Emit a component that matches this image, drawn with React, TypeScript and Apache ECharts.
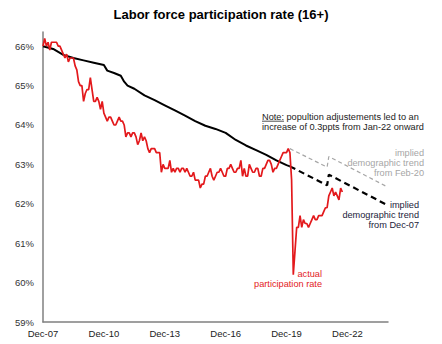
import React, { useEffect, useRef } from "react";
import * as echarts from "echarts";

// x values are months since Dec-07
const xTickLabels = ["Dec-07", "Dec-10", "Dec-13", "Dec-16", "Dec-19", "Dec-22"];
const monthsPerTick = 36;

// actual participation rate, monthly from Dec-07 to Sep-22
const actualRate = [
  66.0,
  66.2, 66.0, 66.1, 65.9, 66.1, 66.1, 66.1, 66.1, 66.0, 66.0, 65.9, 65.8,
  65.7, 65.8, 65.6, 65.7, 65.7, 65.7, 65.5, 65.4, 65.1, 65.0, 65.0, 64.6,
  64.8, 64.9, 64.9, 65.2, 64.9, 64.6, 64.6, 64.7, 64.6, 64.4, 64.6, 64.3,
  64.2, 64.1, 64.2, 64.2, 64.1, 64.0, 64.0, 64.1, 64.2, 64.1, 64.1, 64.0,
  63.7, 63.8, 63.8, 63.7, 63.8, 63.8, 63.7, 63.5, 63.6, 63.8, 63.6, 63.7,
  63.6, 63.4, 63.3, 63.4, 63.4, 63.4, 63.3, 63.3, 63.3, 62.8, 63.0, 62.9,
  62.9, 62.9, 63.1, 62.8, 62.9, 62.8, 62.9, 62.9, 62.8, 62.9, 62.9, 62.8,
  62.9, 62.8, 62.7, 62.7, 62.8, 62.6, 62.6, 62.6, 62.4, 62.5, 62.5, 62.7,
  62.7, 62.8, 62.9, 62.7, 62.6, 62.7, 62.8, 62.8, 62.9, 62.8, 62.7, 62.7,
  62.9, 62.9, 63.0, 62.9, 62.8, 62.8, 62.9, 62.9, 63.1, 62.7, 62.9, 62.7,
  62.7, 63.0, 62.9, 62.8, 62.8, 62.9, 62.9, 62.7, 62.7, 62.9, 62.9, 63.0,
  63.1, 63.1, 63.0, 62.8, 62.9, 62.9, 63.0, 63.1, 63.2, 63.3, 63.3, 63.3,
  63.4, 63.3, 62.6, 60.2, 60.8, 61.4, 61.4, 61.7, 61.4, 61.6, 61.5, 61.5,
  61.4, 61.5, 61.6, 61.7, 61.6, 61.6, 61.7, 61.7, 61.7, 61.8, 61.9, 61.9,
  62.2, 62.3, 62.4, 62.2, 62.3, 62.2, 62.1, 62.4, 62.3,
];

// implied demographic trend from Dec-07 (solid part), [month, rate]
const trendDec07Solid = [
  [0, 66.0], [6, 65.93], [12, 65.78], [18, 65.7], [24, 65.64], [30, 65.58],
  [36, 65.52], [38, 65.38], [42, 65.32], [46, 65.25], [48, 65.1], [50, 65.0],
  [54, 64.92], [60, 64.75], [66, 64.63], [72, 64.5], [78, 64.37], [84, 64.24],
  [90, 64.1], [96, 63.98], [102, 63.9], [108, 63.8], [114, 63.62], [120, 63.48],
  [126, 63.36], [132, 63.24], [138, 63.1], [144, 62.98], [146, 62.95],
];
// projected part (dashed), with Jan-22 population adjustment
const trendDec07Dashed = [
  [146, 62.95], [168, 62.47], [169, 62.74], [203, 61.98],
];
// implied demographic trend from Feb-20
const trendFeb20 = [
  [146, 63.4], [168, 62.93], [169, 63.2], [204, 62.42],
];

const FONT = "'Liberation Sans', Arial, sans-serif";

export default function App() {
  const ref = useRef<HTMLDivElement>(null);
  useEffect(() => {
    document.body.style.margin = "0";
    const chart = echarts.init(ref.current!, null, { renderer: "svg" });
    chart.setOption({
      animation: false,
      title: {
        text: "Labor force participation rate (16+)",
        left: 216,
        top: 3,
        textAlign: "center",
        textStyle: { fontFamily: FONT, fontSize: 13, fontWeight: "bold", color: "#000" },
      },
      grid: { left: 43, right: 54, top: 32, bottom: 22 },
      xAxis: {
        type: "value",
        min: 0,
        max: 204,
        interval: monthsPerTick,
        splitLine: { show: false },
        axisTick: { show: false },
        axisLine: { lineStyle: { color: "#808080", width: 1.5 } },
        axisLabel: {
          margin: 6,
          fontFamily: FONT,
          fontSize: 9.5,
          color: "#222",
          showMaxLabel: false,
          formatter: (v: number) =>
            v % monthsPerTick === 0 ? xTickLabels[v / monthsPerTick] ?? "" : "",
        },
      },
      yAxis: {
        type: "value",
        min: 59,
        max: 66.36,
        interval: 1,
        splitLine: { show: false },
        axisTick: { show: false },
        axisLine: { show: true, lineStyle: { color: "#808080", width: 1.5 } },
        axisLabel: {
          margin: 9,
          fontFamily: FONT,
          fontSize: 9.5,
          color: "#333",
          showMaxLabel: false,
          formatter: (v: number) => (Math.abs(v - Math.round(v)) < 1e-6 ? `${Math.round(v)}%` : ""),
        },
      },
      series: [
        {
          type: "line",
          data: trendFeb20,
          symbol: "none",
          lineStyle: { color: "#a6a6a6", width: 1.2, type: [4, 3] },
        },
        {
          type: "line",
          data: trendDec07Solid,
          symbol: "none",
          lineStyle: { color: "#000", width: 2 },
        },
        {
          type: "line",
          data: trendDec07Dashed,
          symbol: "none",
          lineStyle: { color: "#000", width: 2.2, type: [6, 4] },
        },
        {
          type: "line",
          data: actualRate.map((v, i) => [i, v]),
          symbol: "none",
          lineStyle: { color: "#e3191c", width: 1.7 },
        },
      ],
      graphic: [
        {
          type: "text",
          x: 262,
          y: 112,
          style: {
            text: "Note: popultion adjustements led to an\nincrease of 0.3ppts from Jan-22 onward",
            font: `9.2px ${FONT}`,
            fill: "#222",
            lineHeight: 10,
            textAlign: "left",
            textVerticalAlign: "top",
          },
        },
        {
          type: "line",
          shape: { x1: 262, y1: 121.2, x2: 284, y2: 121.2 },
          style: { stroke: "#222", lineWidth: 0.8 },
        },
        {
          type: "text",
          x: 424,
          y: 148,
          style: {
            text: "implied\ndemographic trend\nfrom Feb-20",
            font: `9.2px ${FONT}`,
            fill: "#a6a6a6",
            lineHeight: 10,
            textAlign: "right",
            textVerticalAlign: "top",
          },
        },
        {
          type: "text",
          x: 419,
          y: 200,
          style: {
            text: "implied\ndemographic trend\nfrom Dec-07",
            font: `9.2px ${FONT}`,
            fill: "#22223a",
            lineHeight: 10,
            textAlign: "right",
            textVerticalAlign: "top",
          },
        },
        {
          type: "text",
          x: 322,
          y: 269,
          style: {
            text: "actual\nparticipation rate",
            font: `9.2px ${FONT}`,
            fill: "#e3191c",
            lineHeight: 10,
            textAlign: "right",
            textVerticalAlign: "top",
          },
        },
      ],
    });
    return () => chart.dispose();
  }, []);
  return (
    <div
      ref={ref}
      style={{ position: "absolute", left: 0, top: 0, width: 442, height: 344 }}
    />
  );
}
